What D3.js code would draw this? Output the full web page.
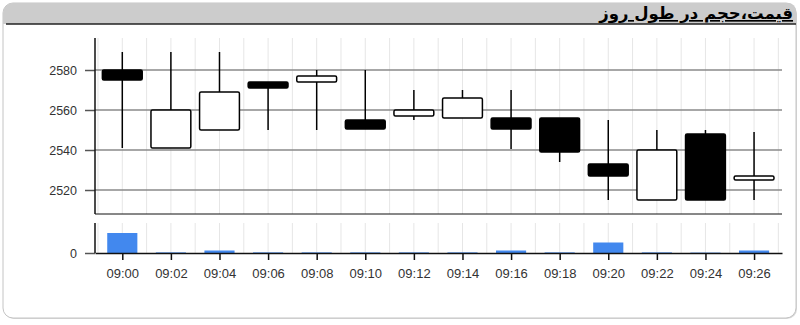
<!DOCTYPE html>
<html><head><meta charset="utf-8">
<script src="https://cdn.jsdelivr.net/npm/d3@7/dist/d3.min.js"></script>
<style>html,body{margin:0;padding:0;background:#fff;}svg{display:block;}</style>
</head><body>
<svg id="c" width="800" height="325"></svg>
<script>
const title = "قیمت،حجم در طول روز";
const times = ["09:00","09:02","09:04","09:06","09:08","09:10","09:12","09:14","09:16","09:18","09:20","09:22","09:24","09:26"];
const openV  = [2580,2541,2550,2574,2574,2555,2557,2556,2556,2556,2533,2515,2548,2525];
const highV  = [2589,2589,2589,2574,2580,2580,2570,2570,2570,2556,2555,2550,2550,2549];
const lowV   = [2541,2541,2550,2550,2550,2550.5,2555,2556,2540.5,2534,2515,2515,2515,2515];
const closeV = [2575,2560,2569,2571,2577,2550.5,2560,2566,2550.5,2539,2527,2540,2515,2527];
const volumeV = [20,0.6,2.5,0.6,0.6,0.6,0.6,0.6,2.5,0.6,10.5,0.6,0.4,2.5];
const priceTicks = [2520,2540,2560,2580];
const volTicks = [0];

const svg = d3.select("#c");
const parse = d3.timeParse("%H:%M");
const dates = times.map(parse);
const data = times.map((t,i)=>({t:dates[i],o:openV[i],h:highV[i],l:lowV[i],c:closeV[i],v:volumeV[i]}));

const L=95, R=782, pTop=38, pBot=214, vTop=223, vBot=253;
const x = d3.scaleTime()
  .domain([new Date(dates[0].getTime()-67.4e3), new Date(dates[dates.length-1].getTime()+69e3)])
  .range([L,R]);
const y = d3.scaleLinear().domain([2508,2596]).range([pBot,pTop]);
const yv = d3.scaleLinear().domain([0,30]).range([vBot,vTop]);
const step = x(dates[1])-x(dates[0]);
const lblFont = "Liberation Sans, Arial";

// panel
svg.append("rect").attr("x",4).attr("y",4).attr("width",793).attr("height",315).attr("rx",10).attr("fill","#d9d9d9");
svg.append("rect").attr("x",3).attr("y",3).attr("width",793).attr("height",315).attr("rx",10).attr("fill","#fff").attr("stroke","#c4c4c4");
svg.append("path").attr("d","M3,24 V13 A10,10 0 0 1 13,3 H788 A8,8 0 0 1 796,11 V24 Z").attr("fill","#cccccc");
svg.append("line").attr("x1",6).attr("x2",796).attr("y1",24).attr("y2",24).attr("stroke","#222").attr("stroke-width",1.5);
svg.append("text").attr("x",793).attr("y",19).attr("text-anchor","start").attr("direction","rtl")
  .attr("font-family","DejaVu Sans").attr("font-weight","bold").attr("font-size",16.5).attr("fill","#000")
  .style("text-decoration","underline").text(title);

// vertical minute grid
const minutes = d3.timeMinute.range(d3.timeMinute.ceil(x.domain()[0]), x.domain()[1]);
[[pTop,pBot],[vTop,vBot]].forEach(([a,b])=>{
  svg.append("g").selectAll("line").data(minutes).join("line")
    .attr("x1",d=>x(d)).attr("x2",d=>x(d)).attr("y1",a).attr("y2",b)
    .attr("stroke","#e6e6e6").attr("stroke-width",1);
});

// horizontal price grid
svg.append("g").selectAll("line").data(priceTicks).join("line")
  .attr("x1",L).attr("x2",R).attr("y1",d=>y(d)).attr("y2",d=>y(d))
  .attr("stroke","#8a8a8a").attr("stroke-width",1.5);

// price y axis
const ya = svg.append("g").attr("transform",`translate(${L},0)`)
  .call(d3.axisLeft(y).tickValues(priceTicks).tickFormat(d3.format("d")).tickSize(10).tickSizeOuter(0).tickPadding(8));
ya.select(".domain").remove();
ya.selectAll(".tick line").attr("stroke","#555").attr("stroke-width",1.5);
ya.selectAll("text").attr("font-family",lblFont).attr("font-size",12.5).attr("fill","#333");
svg.append("line").attr("x1",L).attr("x2",L).attr("y1",pTop).attr("y2",pBot).attr("stroke","#111").attr("stroke-width",1.5);
svg.append("line").attr("x1",L).attr("x2",R).attr("y1",pBot).attr("y2",pBot).attr("stroke","#111").attr("stroke-width",1);

// candles
const bw = step*0.82;
const cg = svg.append("g");
cg.selectAll("line").data(data).join("line")
  .attr("x1",d=>x(d.t)).attr("x2",d=>x(d.t)).attr("y1",d=>y(d.h)).attr("y2",d=>y(d.l))
  .attr("stroke","#000").attr("stroke-width",1.5);
cg.selectAll("rect").data(data).join("rect")
  .attr("x",d=>x(d.t)-bw/2).attr("width",bw)
  .attr("y",d=>y(Math.max(d.o,d.c))).attr("height",d=>Math.max(1,Math.abs(y(d.o)-y(d.c))))
  .attr("rx",1.5)
  .attr("fill",d=>d.c<d.o?"#000":"#fff").attr("stroke","#000").attr("stroke-width",1.5);

// volume
const vbw = step*0.62;
svg.append("g").selectAll("rect").data(data).join("rect")
  .attr("x",d=>x(d.t)-vbw/2).attr("width",vbw)
  .attr("y",d=>yv(d.v)).attr("height",d=>yv(0)-yv(d.v))
  .attr("fill","#4288ee");
const yva = svg.append("g").attr("transform",`translate(${L},0)`)
  .call(d3.axisLeft(yv).tickValues(volTicks).tickSize(10).tickSizeOuter(0).tickPadding(8));
yva.select(".domain").remove();
yva.selectAll(".tick line").attr("stroke","#555").attr("stroke-width",1.5);
yva.selectAll("text").attr("font-family",lblFont).attr("font-size",12.5).attr("fill","#333");
svg.append("line").attr("x1",L).attr("x2",L).attr("y1",vTop).attr("y2",vBot).attr("stroke","#111").attr("stroke-width",1.5);

const xa = svg.append("g").attr("transform",`translate(0,${vBot})`)
  .call(d3.axisBottom(x).tickValues(dates).tickFormat(d3.timeFormat("%H:%M")).tickSize(7).tickSizeOuter(0).tickPadding(9));
xa.select(".domain").attr("stroke","#111").attr("stroke-width",1.5);
xa.selectAll(".tick line").attr("stroke","#111").attr("stroke-width",1.5);
xa.selectAll("text").attr("font-family",lblFont).attr("font-size",13).attr("fill","#333");
</script>
</body></html>
